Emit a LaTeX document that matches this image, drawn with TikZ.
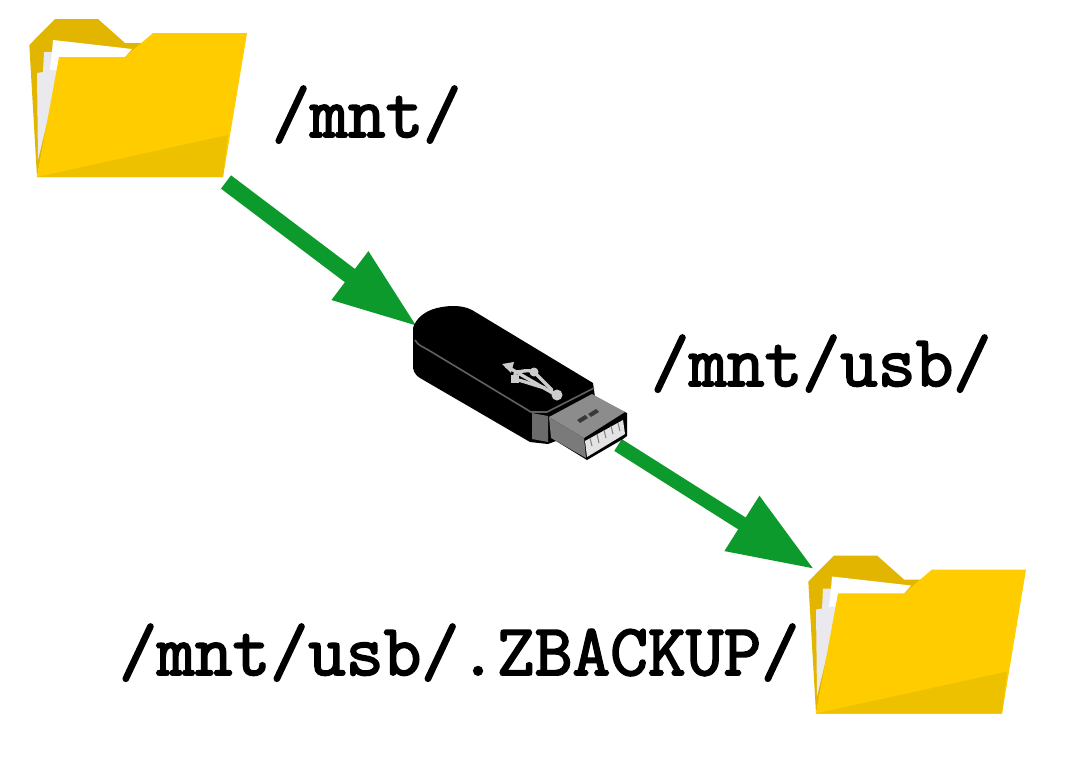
\documentclass[tikz,border=0pt]{standalone}
\usepackage{fontspec}
\newfontfamily\pathfont[FakeBold=2.5]{Latin Modern Mono}
\usetikzlibrary{arrows.meta}
\definecolor{fbase}{HTML}{FFCC00}
\definecolor{fback}{HTML}{E2B600}
\definecolor{fshade}{HTML}{EDC000}
\definecolor{fpaper}{HTML}{E9E9EE}
\definecolor{garrow}{HTML}{0D9A2C}
\tikzset{
  x=0.75pt,y=-0.75pt,
  pathlabel/.style={inner sep=0pt,anchor=base west,font=\fontsize{55}{60}\selectfont\pathfont,text=black},
  flowA/.style={draw=garrow,line width=12.5pt,-{Triangle[length=64pt,width=42pt]}},
  flowB/.style={draw=garrow,line width=10.5pt,-{Triangle[length=64pt,width=46pt]}},
  folder/.pic={
    \fill[fback] (37,177)--(29.3,45)--(55,19)--(98,19)--(125,43)--(142,43)--(142,60)--(60,60)--cycle;
    \fill[fpaper] (52,52)--(44,52)--(43,72)--(37,73)--(38,160)--(62,60)--cycle;
    \fill[white] (53,40)--(132,49)--(125,57)--(59,57)--(57,70)--(50,70)--(52,52)--cycle;
    \fill[fbase] (37,177)--(59,57)--(125,57)--(153,33)--(247,33)--(223,177)--cycle;
    \fill[fshade] (37,177)--(228,135)--(223,177)--cycle;
  },
  usbmark/.style={draw=black!20,line width=2.5pt,line cap=round,line join=round},
}
\begin{document}
\begin{tikzpicture}
\useasboundingbox (0,0) rectangle (1080,757);
\fill[white] (0,0) rectangle (1080,757);
% folders
\pic at (0,0) {folder};
\pic at (779,536.5) {folder};
% anchors of the connectors
\coordinate (folderAout) at (226,182);
\coordinate (usbIn) at (418,327);
\coordinate (usbOut) at (618,445);
\coordinate (folderBin) at (814,569);
\draw[flowA] (folderAout) -- (usbIn);
\draw[flowB] (usbOut) -- (folderBin);
% USB stick body
\fill[black] (413,328) .. controls (416,318) and (425,311) .. (437,308)
  .. controls (450,305) and (462,305) .. (472,310)
  -- (593,383) -- (595,397) -- (627,413) -- (627,436) -- (623,439) -- (587,460)
  -- (556,441) -- (548,444) -- (530,442) -- (420,378) .. controls (414,374) and (413,370) .. (413,366) -- cycle;
\draw[black!62,line width=1.2pt] (415,340) .. controls (418,346) and (424,347) .. (430,351) -- (531,412) -- (547,412) -- (594,388);
% collar
\fill[black!58] (532,413) -- (548,416) -- (548,442) -- (532,439) -- cycle;
% plug
\fill[black!45] (549,417) -- (592,394) -- (625,412) -- (584,438) -- cycle;
\fill[black!52] (549,417) -- (584,438) -- (586,458) -- (551,438) -- cycle;
\fill[black!78] (577,420) -- (585,415) -- (588,418) -- (580,423) -- cycle;
\fill[black!78] (588,414) -- (596,409) -- (599,412) -- (591,417) -- cycle;
% opening
\fill[black!11] (585,441) -- (623,420) -- (625,434) -- (587,457) -- cycle;
\draw[black!50,line width=0.8pt] (590,438) -- (592,446) (597,434) -- (599,443) (604,430) -- (606,438) (611,426) -- (613,434) (618,423) -- (620,431);
% USB mark
\draw[usbmark] (506,366) -- (556,395);
\draw[usbmark] (516,372) .. controls (522,372) and (526,369) .. (534,372) -- (552,390);
\draw[usbmark] (516,372) .. controls (513,378) and (516,380) .. (522,381) -- (538,386) -- (545,388);
\fill[black!20] (502,364) -- (514,362) -- (511,373) -- cycle;
\fill[black!20] (534,372) circle (4.5);
\fill[black!20] (557,395) circle (5.5);
\fill[black!20] (511,375) rectangle (519,383);
% labels
\node[pathlabel] (labelA) at (272,137) {/mnt/};
\node[pathlabel] (labelB) at (651,386) {/mnt/usb/};
\node[pathlabel] (labelC) at (119,675) {/mnt/usb/.ZBACKUP/};
\end{tikzpicture}
\end{document}
